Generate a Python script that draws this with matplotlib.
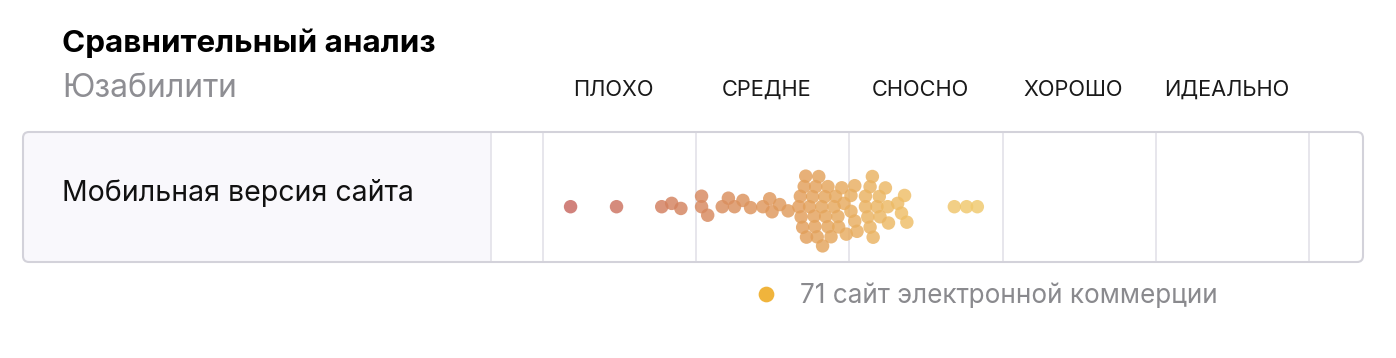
import numpy as np
import matplotlib
matplotlib.use("Agg")
import matplotlib.pyplot as plt
from matplotlib.patches import FancyBboxPatch, Rectangle
from matplotlib.colors import LinearSegmentedColormap

# ---------------- data ----------------
title = "Сравнительный анализ"
subtitle = "Юзабилити"
row_label = "Мобильная версия сайта"
categories = ["ПЛОХО", "СРЕДНЕ", "СНОСНО", "ХОРОШО", "ИДЕАЛЬНО"]
bin_edges = [0, 20, 40, 60, 80, 100]
legend_label = "71 сайт электронной коммерции"
scores = [3.6, 9.6, 15.5, 18.0, 16.8, 21.5, 20.7, 20.7, 23.4, 25.0,
          24.2, 26.1, 27.1, 28.7, 29.9, 29.6, 30.9, 32.0, 33.9, 36.9,
          36.5, 33.7, 35.8, 34.1, 33.4, 35.4, 34.3, 33.6, 35.5, 37.2,
          38.6, 36.8, 38.2, 39.3, 40.2, 40.7, 40.2, 40.7, 38.5, 42.1,
          42.1, 42.7, 42.7, 43.9, 43.6, 43.1, 45.1, 44.7, 45.0, 46.3,
          46.8, 47.5, 47.2, 53.7, 55.3, 56.7,
          34.4, 34.8, 35.2, 35.6, 36.0, 36.4, 37.2, 37.6, 38.0, 39.0,
          39.6, 41.0, 42.4, 43.0, 44.0]

# ---------------- figure ----------------
W, H, DPI = 1396, 358, 100
plt.rcParams["font.family"] = ["Inter", "DejaVu Sans"]
fig = plt.figure(figsize=(W / DPI, H / DPI), dpi=DPI)
fig.patch.set_facecolor("white")

# background axes in pixel coordinates
bg = fig.add_axes([0, 0, 1, 1])
bg.set_xlim(0, W)
bg.set_ylim(H, 0)
bg.axis("off")

box_l, box_r, box_t, box_b = 23, 1363, 132, 262
panel_r = 491
rad = 6

outer = FancyBboxPatch((box_l, box_t), box_r - box_l, box_b - box_t,
                       boxstyle=f"round,pad=0,rounding_size={rad}",
                       facecolor="#f9f8fc", edgecolor="none", zorder=1)
bg.add_patch(outer)
white = Rectangle((panel_r, box_t - 5), box_r - panel_r + 5, box_b - box_t + 10,
                  facecolor="white", edgecolor="none", zorder=2)
bg.add_patch(white)
white.set_clip_path(outer)
bg.plot([panel_r, panel_r], [box_t, box_b], color="#e3e2e9", lw=1.2, zorder=3)

# texts
bg.text(62, 52, title, fontsize=22.6, fontweight="bold", color="#000000",
        ha="left", va="baseline")
bg.text(62, 97, subtitle, fontsize=23, color="#8e8e93", ha="left", va="baseline")
bg.text(62, 201, row_label, fontsize=20.5, color="#111111", ha="left", va="baseline")

# data axes
px_per_unit = (1309 - 543) / 100.0
xl = -(543 - panel_r) / px_per_unit
xr = 100 + (box_r - 1309) / px_per_unit
yc = 206.7
ax = fig.add_axes([panel_r / W, (H - box_b) / H, (box_r - panel_r) / W, (box_b - box_t) / H])
ax.set_xlim(xl, xr)
ax.set_ylim(-(box_b - yc), (yc - box_t))
ax.axis("off")
ax.patch.set_alpha(0)

for e in bin_edges:
    ax.axvline(e, color="#e3e2e9", lw=1.2, zorder=1)

# category labels (above box, centred in each bin)
for i, c in enumerate(categories):
    xm = (bin_edges[i] + bin_edges[i + 1]) / 2
    bg.text(543 + xm * px_per_unit - 6, 96, c, fontsize=15.7, color="#1a1a1a",
            ha="center", va="baseline")

# beeswarm layout (pixels)
def beeswarm(xpx, d):
    order = np.argsort(xpx, kind="stable")
    placed = []
    ys = np.zeros(len(xpx))
    for i in order:
        x = xpx[i]
        near = [(xj, yj) for xj, yj in placed if abs(xj - x) < d]
        cands = [0.0]
        for xj, yj in near:
            dy = np.sqrt(d * d - (xj - x) ** 2)
            cands += [yj + dy, yj - dy]
        cands.sort(key=abs)
        for c in cands:
            if all((xj - x) ** 2 + (yj - c) ** 2 >= d * d - 1e-6 for xj, yj in near):
                ys[i] = c
                break
        placed.append((x, ys[i]))
    return ys

vals = np.array(scores)
ys = beeswarm(vals * px_per_unit, 10.5)

cmap = LinearSegmentedColormap.from_list(
    "sw", [(0.0, "#c4605f"), (20 / 60, "#d6875e"), (35 / 60, "#e3a05a"),
           (47 / 60, "#eebd66"), (1.0, "#f1cd70")])
cols = cmap(np.clip(vals / 60.0, 0, 1))
ax.scatter(vals, ys, s=94, c=cols, alpha=0.82, linewidths=0, zorder=3)

# border on top
border = FancyBboxPatch((box_l, box_t), box_r - box_l, box_b - box_t,
                        boxstyle=f"round,pad=0,rounding_size={rad}",
                        facecolor="none", edgecolor="#d3d2da", lw=1.5,
                        zorder=10, transform=bg.transData, clip_on=False)
ax.add_patch(border)

# legend
bg.scatter([766], [294], s=128, color="#f0b43c", linewidths=0, zorder=5)
bg.text(800, 303, legend_label, fontsize=18.8, color="#8a8a8e", ha="left", va="baseline")

fig.savefig("out.png", dpi=DPI, facecolor="white")
